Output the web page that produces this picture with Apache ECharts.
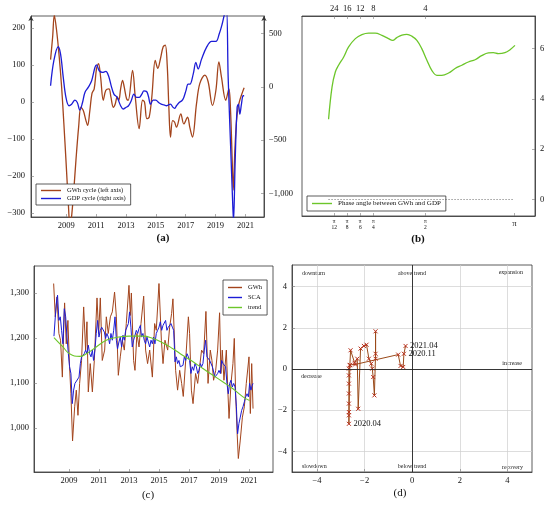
<!DOCTYPE html>
<html><head><meta charset="utf-8">
<script src="https://cdn.jsdelivr.net/npm/echarts@6/dist/echarts.min.js"></script>
<style>html,body{margin:0;padding:0;background:#fff}#c{width:550px;height:505px}</style>
</head><body><div id="c"></div>
<script>
// ---------- DATA ----------
// (a) cycles: [year, value]
const aYearTicks = [2009, 2011, 2013, 2015, 2017, 2019, 2021];
const aLeftTicks = [-300, -200, -100, 0, 100, 200];
const aRightTicks = [-1000, -500, 0, 500];
const aGwhCycle = [[2007.95,115],[2008.09,177],[2008.20,235],[2008.35,195],[2008.53,122],[2008.69,41],[2008.84,-58],[2008.98,-157],[2009.13,-266],[2009.25,-335],[2009.33,-320],[2009.47,-257],[2009.65,-157],[2009.83,-67],[2009.98,-14],[2010.14,-23],[2010.32,-50],[2010.43,-63],[2010.58,-23],[2010.72,23],[2010.87,36],[2011.03,91],[2011.16,104],[2011.30,68],[2011.48,5],[2011.65,32],[2011.86,36],[2011.99,14],[2012.15,-14],[2012.28,-5],[2012.41,14],[2012.52,5],[2012.64,36],[2012.77,59],[2012.88,41],[2013.04,9],[2013.15,5],[2013.44,86],[2013.62,14],[2013.88,-72],[2014.11,5],[2014.24,0],[2014.40,-45],[2014.55,-41],[2014.73,14],[2014.96,113],[2015.13,91],[2015.31,118],[2015.49,150],[2015.63,154],[2015.76,100],[2015.87,-14],[2015.98,-95],[2016.12,-50],[2016.25,-54],[2016.38,-68],[2016.67,-32],[2016.87,-59],[2017.12,-41],[2017.28,-70],[2017.45,-95],[2017.72,-5],[2017.94,50],[2018.28,73],[2018.50,55],[2018.79,-9],[2019.02,32],[2019.22,109],[2019.39,68],[2019.68,5],[2019.89,36],[2020.00,-23],[2020.11,-157],[2020.18,-238],[2020.29,-130],[2020.40,-50],[2020.51,-14],[2020.62,5],[2020.80,27],[2020.91,39]];
const aGdpCycle = [[2007.95,9],[2008.17,244],[2008.46,375],[2008.62,306],[2008.80,88],[2008.98,-100],[2009.18,-178],[2009.36,-163],[2009.58,-125],[2009.74,-147],[2009.91,-219],[2010.09,-147],[2010.25,-53],[2010.47,-6],[2010.70,56],[2010.92,181],[2011.03,206],[2011.21,150],[2011.43,134],[2011.65,144],[2011.83,103],[2012.01,9],[2012.19,-69],[2012.41,-100],[2012.64,-178],[2012.81,-209],[2012.99,-194],[2013.17,-178],[2013.35,-131],[2013.53,-69],[2013.71,-100],[2013.89,-100],[2014.06,-69],[2014.20,-38],[2014.38,-44],[2014.51,-94],[2014.64,-163],[2014.82,-125],[2015.00,-125],[2015.18,-147],[2015.36,-163],[2015.54,-169],[2015.71,-178],[2015.85,-169],[2015.98,-163],[2016.12,-188],[2016.25,-203],[2016.38,-178],[2016.56,-147],[2016.74,-131],[2016.87,-100],[2017.01,-38],[2017.16,25],[2017.28,25],[2017.50,119],[2017.68,228],[2017.83,166],[2018.06,259],[2018.39,369],[2018.73,425],[2019.02,425],[2019.24,494],[2019.44,588],[2019.60,681],[2019.73,720],[2019.84,88],[2020.00,-538],[2020.13,-1038],[2020.20,-1260],[2020.31,-694],[2020.44,-194],[2020.53,-163],[2020.62,-256],[2020.73,-163],[2020.84,-84],[2020.91,-84]];

// (b) phase angle: [position on frequency axis, radians]
const bFreqPos = [13.8, 19.4, 25.0, 30.6, 53.0, 91.2];
const bFreqLabels = ['π/12', 'π/8', 'π/6', 'π/4', 'π/2', 'π'];
const bPeriodLabels = ['24', '16', '12', '8', '4'];
const bPhaseTicks = [0, 2, 4, 6];
const bPhase = [[11.4,3.19],[12.9,4.48],[14.3,5.07],[15.7,5.34],[17.9,5.67],[20.0,6.07],[22.9,6.40],[25.7,6.56],[28.6,6.62],[31.4,6.62],[34.3,6.53],[37.1,6.40],[38.9,6.33],[40.7,6.44],[42.9,6.54],[45.0,6.57],[47.1,6.50],[49.3,6.33],[51.4,6.00],[53.6,5.54],[55.7,5.14],[57.9,4.94],[60.0,4.94],[62.9,5.03],[65.7,5.21],[68.6,5.34],[71.4,5.47],[74.3,5.56],[77.1,5.72],[80.0,5.83],[82.1,5.84],[84.3,5.80],[87.1,5.84],[89.3,5.96],[91.4,6.13]];

// (c) GWh, SCA and trend: [year, GWh]
const cValueTicks = [1000, 1100, 1200, 1300];
const cGwh = [[2007.98,1321],[2008.09,1247],[2008.20,1291],[2008.33,1210],[2008.44,1195],[2008.56,1113],[2008.64,1210],[2008.71,1278],[2008.82,1187],[2008.93,1239],[2009.04,1136],[2009.13,1076],[2009.24,971],[2009.38,1047],[2009.49,1084],[2009.60,1028],[2009.71,1099],[2009.84,1150],[2009.98,1269],[2010.11,1173],[2010.20,1236],[2010.29,1080],[2010.42,1143],[2010.56,1080],[2010.69,1150],[2010.87,1289],[2010.98,1210],[2011.09,1289],[2011.22,1150],[2011.38,1173],[2011.49,1247],[2011.62,1210],[2011.76,1247],[2011.89,1258],[2012.04,1302],[2012.16,1247],[2012.29,1117],[2012.42,1158],[2012.56,1195],[2012.69,1173],[2012.82,1232],[2013.00,1317],[2013.09,1250],[2013.16,1300],[2013.31,1150],[2013.40,1128],[2013.53,1210],[2013.67,1180],[2013.80,1232],[2013.98,1293],[2014.11,1173],[2014.24,1143],[2014.38,1173],[2014.56,1113],[2014.71,1232],[2014.82,1217],[2015.00,1321],[2015.16,1195],[2015.27,1143],[2015.40,1195],[2015.58,1173],[2015.71,1224],[2015.84,1254],[2015.93,1287],[2016.11,1128],[2016.24,1084],[2016.38,1128],[2016.51,1099],[2016.62,1070],[2016.78,1150],[2016.96,1247],[2017.04,1210],[2017.16,1084],[2017.27,1054],[2017.44,1121],[2017.58,1099],[2017.71,1099],[2017.84,1173],[2017.98,1165],[2018.13,1259],[2018.27,1099],[2018.42,1173],[2018.53,1150],[2018.64,1106],[2018.78,1128],[2018.91,1173],[2019.04,1256],[2019.13,1121],[2019.22,1173],[2019.33,1106],[2019.49,1173],[2019.58,1091],[2019.67,1021],[2019.80,1099],[2019.93,1143],[2020.02,1199],[2020.11,1076],[2020.20,995],[2020.29,932],[2020.42,973],[2020.56,1024],[2020.69,1047],[2020.82,1099],[2021.00,1158],[2021.09,1032],[2021.18,1143],[2021.27,1043]];
const cScaYears = [2008.00,2008.09,2008.18,2008.24,2008.33,2008.42,2008.51,2008.60,2008.69,2008.78,2008.87,2008.96,2009.04,2009.13,2009.22,2009.31,2009.40,2009.53,2009.67,2009.76,2009.84,2009.93,2010.02,2010.11,2010.20,2010.29,2010.38,2010.47,2010.56,2010.64,2010.73,2010.82,2010.91,2011.00,2011.09,2011.18,2011.27,2011.36,2011.44,2011.53,2011.62,2011.71,2011.80,2011.89,2011.98,2012.07,2012.16,2012.24,2012.33,2012.42,2012.51,2012.60,2012.69,2012.78,2012.87,2012.96,2013.04,2013.13,2013.22,2013.31,2013.40,2013.49,2013.58,2013.67,2013.76,2013.84,2013.93,2014.02,2014.11,2014.20,2014.29,2014.38,2014.47,2014.56,2014.64,2014.73,2014.82,2014.91,2015.00,2015.09,2015.18,2015.27,2015.36,2015.44,2015.53,2015.62,2015.71,2015.80,2015.89,2015.98,2016.07,2016.16,2016.24,2016.33,2016.42,2016.51,2016.60,2016.69,2016.78,2016.87,2016.96,2017.04,2017.13,2017.22,2017.31,2017.40,2017.49,2017.58,2017.67,2017.76,2017.84,2017.93,2018.02,2018.11,2018.20,2018.29,2018.38,2018.47,2018.56,2018.64,2018.73,2018.82,2018.91,2019.00,2019.09,2019.18,2019.27,2019.36,2019.44,2019.53,2019.62,2019.71,2019.80,2019.89,2019.98,2020.07,2020.16,2020.24,2020.33,2020.42,2020.51,2020.60,2020.69,2020.78,2020.87,2020.96,2021.04,2021.13,2021.22,2021.27];
const cScaValues = [1204,1247,1284,1295,1239,1247,1217,1187,1265,1247,1202,1165,1136,1121,1054,1084,1099,1102,1113,1143,1158,1158,1165,1173,1165,1184,1165,1158,1173,1150,1173,1210,1239,1202,1217,1224,1221,1213,1199,1210,1202,1187,1210,1195,1217,1247,1195,1176,1191,1202,1180,1206,1195,1217,1213,1232,1258,1224,1180,1195,1191,1217,1210,1221,1228,1202,1210,1195,1187,1202,1191,1180,1195,1187,1202,1187,1210,1217,1224,1236,1217,1228,1224,1239,1217,1224,1224,1232,1224,1217,1147,1158,1143,1150,1136,1139,1139,1158,1150,1165,1158,1150,1121,1136,1128,1143,1136,1121,1128,1143,1136,1143,1173,1195,1158,1158,1150,1150,1136,1132,1113,1110,1121,1128,1121,1150,1143,1143,1136,1099,1076,1099,1106,1091,1099,1091,1047,987,1010,1024,1039,1047,1058,1069,1076,1069,1099,1084,1095,1099];
const cTrend = [[2008.00,1201],[2008.60,1180],[2009.04,1165],[2009.71,1159],[2010.16,1165],[2010.82,1180],[2011.49,1195],[2012.16,1201],[2013.04,1204],[2013.93,1204],[2014.60,1199],[2015.27,1189],[2015.93,1176],[2016.60,1161],[2017.27,1147],[2017.93,1132],[2018.60,1117],[2019.27,1102],[2019.93,1087],[2020.60,1069],[2021.04,1061]];

// (d) trajectory: [x, y] and point names
const dTicks = [-4, -2, 0, 2, 4];
const dPath = [[-1.54,0.50],[-1.54,1.83],[-1.54,0.74],[-1.59,-1.28],[-1.64,-0.39],[-1.68,0.02],[-1.72,0.26],[-1.82,0.50],[-1.92,1.18],[-2.03,1.12],[-2.17,0.99],[-2.27,-1.93],[-2.31,0.50],[-2.42,0.30],[-2.59,0.91],[-2.62,0.18],[-2.66,0.02],[-2.66,-0.31],[-2.66,-0.71],[-2.66,-1.19],[-2.66,-1.68],[-2.66,-2.09],[-2.66,-2.25],[-2.66,-2.66],[-2.62,0.20],[-2.40,0.22],[-0.59,0.70],[-0.49,0.15],[-0.38,0.10],[-0.35,0.74],[-0.28,1.12]];
const dNames = {23: '2020.04', 29: '2020.11', 30: '2021.04'};
const dQuadrants = ['downturn','above trend','expansion','increase','decrease','slowdown','below trend','recovery'];

// ---------- STYLE ----------
const FF = '"Liberation Serif","DejaVu Serif",serif';
const BROWN = '#a3441c', BLUE = '#1c1cd6', GREEN = '#6cc62a';
const fmt = v => (v < 0 ? '\u2212' : '') + Math.abs(v).toLocaleString('en-US');
const lbl = {color: '#111', fontFamily: FF, fontSize: 8.5};

function axis(base, ticks, extra) {
  const o = Object.assign({
    type: 'value', scale: true,
    axisLine: {show: true, onZero: false, lineStyle: {color: '#333', width: 0.8}},
    axisTick: {show: true, inside: true, length: 3, lineStyle: {color: '#777', width: 0.6}, customValues: ticks},
    axisLabel: Object.assign({}, lbl, {customValues: ticks, formatter: fmt, margin: 4}),
    splitLine: {show: false}
  }, base);
  if (extra) Object.keys(extra).forEach(k => { o[k] = Object.assign({}, o[k] || {}, extra[k]); });
  return o;
}

const chart = echarts.init(document.getElementById('c'), null, {renderer: 'canvas'});
const gridBase = {show: true, borderColor: '#333', borderWidth: 0.8, backgroundColor: 'transparent', containLabel: false};

const fracRich = {
  n: {fontFamily: FF, fontSize: 5.5, lineHeight: 6, color: '#111', align: 'center'},
  d: {fontFamily: FF, fontSize: 5.5, lineHeight: 6, color: '#111', align: 'center'},
  p: {fontFamily: FF, fontSize: 8.5, lineHeight: 9, color: '#111'}
};
function fracLabel(v) {
  const i = bFreqPos.indexOf(v);
  if (i < 0) return '';
  const s = bFreqLabels[i];
  if (s.indexOf('/') < 0) return '{p|' + s + '}';
  const parts = s.split('/');
  return '{n|' + parts[0] + '}\n{d|' + parts[1] + '}';
}

const legendBase = {
  orient: 'vertical', backgroundColor: '#fff', borderColor: '#333', borderWidth: 0.8, borderRadius: 0,
  icon: 'rect', itemHeight: 1.4, itemWidth: 20, itemGap: 1, padding: [3, 5],
  textStyle: {fontFamily: FF, fontSize: 6.5, color: '#111', padding: [0, 0, 0, 1]},
  selectedMode: false
};

const option = {
  backgroundColor: '#fff',
  animation: false,
  textStyle: {fontFamily: FF},
  grid: [
    Object.assign({left: 31, top: 16, width: 233, height: 201}, gridBase),
    Object.assign({left: 302, top: 16, width: 233, height: 200}, gridBase),
    Object.assign({left: 34, top: 266, width: 239, height: 206}, gridBase),
    Object.assign({left: 292, top: 265, width: 240, height: 207}, gridBase)
  ],
  legend: [
    Object.assign({}, legendBase, {left: 36, top: 184, data: ['GWh cycle (left axis)', 'GDP cycle (right axis)']}),
    Object.assign({}, legendBase, {left: 307, top: 196, padding: [4, 5], textStyle: Object.assign({}, legendBase.textStyle, {fontSize: 7}), data: ['Phase angle between GWh and GDP']}),
    Object.assign({}, legendBase, {left: 223, top: 280, itemWidth: 14, itemGap: 3, padding: [4, 5], data: ['GWh', 'SCA', 'trend']})
  ],
  xAxis: [
    axis({gridIndex: 0, min: 2006.64, max: 2022.24}, aYearTicks, {axisLabel: {formatter: v => String(v)}}),
    axis({gridIndex: 1, min: 0, max: 100, position: 'bottom'}, bFreqPos, {axisLabel: {formatter: fracLabel, rich: fracRich, margin: 3}}),
    axis({gridIndex: 1, min: 0, max: 100, position: 'top'}, bFreqPos.slice(0, bPeriodLabels.length), {axisLabel: {formatter: v => bPeriodLabels[bFreqPos.indexOf(v)] || '', margin: 3}}),
    axis({gridIndex: 2, min: 2006.67, max: 2022.6}, aYearTicks, {axisLabel: {formatter: v => String(v)}}),
    axis({gridIndex: 3, min: -5.05, max: 5.03}, dTicks, {splitLine: {show: true, lineStyle: {color: '#cfcfcf', width: 0.7}}})
  ],
  yAxis: [
    axis({gridIndex: 0, min: -311, max: 233, position: 'left'}, aLeftTicks, {axisLine: {symbol: ['none', 'arrow'], symbolSize: [4, 5]}, axisLabel: {margin: 6}}),
    axis({gridIndex: 0, min: -1220, max: 663, position: 'right'}, aRightTicks, {axisLine: {symbol: ['none', 'arrow'], symbolSize: [4, 5]}, axisLabel: {margin: 5}}),
    axis({gridIndex: 1, min: -0.66, max: 7.3, position: 'right'}, bPhaseTicks, {axisLabel: {margin: 5}}),
    axis({gridIndex: 2, min: 902, max: 1360, position: 'left'}, cValueTicks, {axisLabel: {margin: 5}}),
    axis({gridIndex: 3, min: -5.0, max: 5.05, position: 'left'}, dTicks, {splitLine: {show: true, lineStyle: {color: '#cfcfcf', width: 0.7}}, axisLabel: {margin: 5}})
  ],
  series: [
    {name: 'GWh cycle (left axis)', type: 'line', xAxisIndex: 0, yAxisIndex: 0, data: aGwhCycle, smooth: 0.35, showSymbol: false,
     lineStyle: {color: BROWN, width: 1.3}, itemStyle: {color: BROWN}, z: 3},
    {name: 'GDP cycle (right axis)', type: 'line', xAxisIndex: 0, yAxisIndex: 1, data: aGdpCycle, smooth: 0.35, showSymbol: false,
     lineStyle: {color: BLUE, width: 1.3}, itemStyle: {color: BLUE}, z: 3},
    {name: 'Phase angle between GWh and GDP', type: 'line', xAxisIndex: 1, yAxisIndex: 2, data: bPhase, smooth: 0.4, showSymbol: false,
     lineStyle: {color: GREEN, width: 1.3}, itemStyle: {color: GREEN},
     markLine: {silent: true, symbol: 'none', label: {show: false}, lineStyle: {color: '#444', type: [1, 2], width: 0.8},
       data: [[{coord: [bPhase[0][0], 0]}, {coord: [bFreqPos[bFreqPos.length - 1], 0]}]]}},
    {name: 'GWh', type: 'line', xAxisIndex: 3, yAxisIndex: 3, data: cGwh, showSymbol: false,
     lineStyle: {color: BROWN, width: 1}, itemStyle: {color: BROWN}, z: 2},
    {name: 'SCA', type: 'line', xAxisIndex: 3, yAxisIndex: 3, data: cScaYears.map((t, i) => [t, cScaValues[i]]), showSymbol: false,
     lineStyle: {color: BLUE, width: 1}, itemStyle: {color: BLUE}, z: 3},
    {name: 'trend', type: 'line', xAxisIndex: 3, yAxisIndex: 3, data: cTrend, smooth: 0.5, showSymbol: false,
     lineStyle: {color: GREEN, width: 1.1}, itemStyle: {color: GREEN}, z: 4},
    {name: 'trajectory', type: 'line', xAxisIndex: 4, yAxisIndex: 4, showAllSymbol: true,
     data: dPath.map((p, i) => dNames[i] ? {value: p, label: {show: true, formatter: dNames[i]}} : {value: p}),
     symbol: 'path://M0,0L10,10M10,0L0,10', symbolSize: 4,
     itemStyle: {color: 'rgba(0,0,0,0)', borderColor: '#b8301c', borderWidth: 1},
     lineStyle: {color: '#9a4a1a', width: 1},
     label: {show: false, position: 'right', distance: 2, color: '#111', fontFamily: FF, fontSize: 8.5},
     markLine: {silent: true, symbol: 'none', label: {show: false}, lineStyle: {color: '#222', type: 'solid', width: 0.9},
       data: [{xAxis: 0}, {yAxis: 0}]}, z: 3}
  ],
  graphic: [
    {type: 'text', style: {x: 163, y: 238, text: '(a)', font: 'bold 11px ' + FF, fill: '#111', textAlign: 'center', textVerticalAlign: 'middle'}},
    {type: 'text', style: {x: 418, y: 239, text: '(b)', font: 'bold 11px ' + FF, fill: '#111', textAlign: 'center', textVerticalAlign: 'middle'}},
    {type: 'text', style: {x: 148, y: 495, text: '(c)', font: '11px ' + FF, fill: '#111', textAlign: 'center', textVerticalAlign: 'middle'}},
    {type: 'text', style: {x: 400, y: 493, text: '(d)', font: '11px ' + FF, fill: '#111', textAlign: 'center', textVerticalAlign: 'middle'}},
    {type: 'text', style: {x: 302, y: 273, text: dQuadrants[0], font: '6px ' + FF, fill: '#222', textAlign: 'left', textVerticalAlign: 'middle'}},
    {type: 'text', style: {x: 412, y: 273, text: dQuadrants[1], font: '6px ' + FF, fill: '#222', textAlign: 'center', textVerticalAlign: 'middle'}},
    {type: 'text', style: {x: 523, y: 272, text: dQuadrants[2], font: '6px ' + FF, fill: '#222', textAlign: 'right', textVerticalAlign: 'middle'}},
    {type: 'text', style: {x: 522, y: 363, text: dQuadrants[3], font: '6px ' + FF, fill: '#222', textAlign: 'right', textVerticalAlign: 'middle'}},
    {type: 'text', style: {x: 301, y: 376, text: dQuadrants[4], font: '6px ' + FF, fill: '#222', textAlign: 'left', textVerticalAlign: 'middle'}},
    {type: 'text', style: {x: 302, y: 466, text: dQuadrants[5], font: '6px ' + FF, fill: '#222', textAlign: 'left', textVerticalAlign: 'middle'}},
    {type: 'text', style: {x: 412, y: 466, text: dQuadrants[6], font: '6px ' + FF, fill: '#222', textAlign: 'center', textVerticalAlign: 'middle'}},
    {type: 'text', style: {x: 523, y: 467, text: dQuadrants[7], font: '6px ' + FF, fill: '#222', textAlign: 'right', textVerticalAlign: 'middle'}}
  ]
};
chart.setOption(option);
</script>
</body></html>
